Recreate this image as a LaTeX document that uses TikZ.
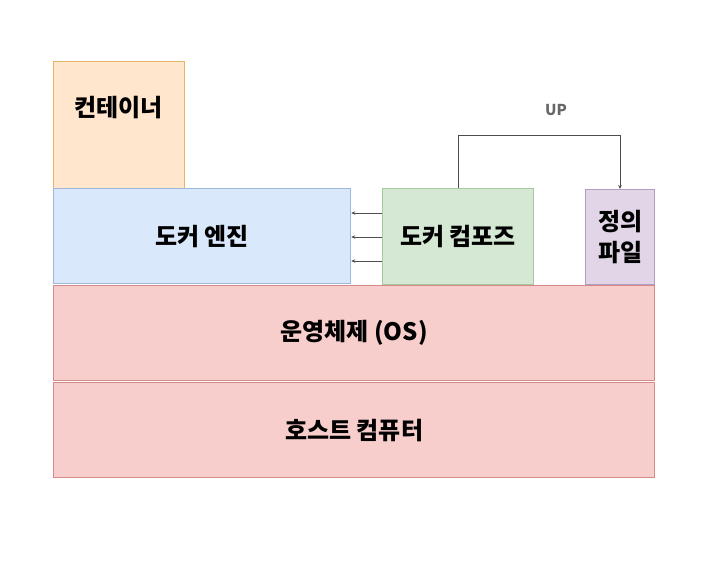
\documentclass[tikz,border=0pt]{standalone}
\usepackage{fontspec}
\setmainfont{Noto Sans CJK KR}
\usetikzlibrary{arrows.meta}
\definecolor{orfill}{HTML}{FFE6CC}\definecolor{ordraw}{HTML}{E3B66A}
\definecolor{blfill}{HTML}{DAE8FC}\definecolor{bldraw}{HTML}{9FB7DB}
\definecolor{grfill}{HTML}{D5E8D4}\definecolor{grdraw}{HTML}{A5C99B}
\definecolor{pufill}{HTML}{E1D5E7}\definecolor{pudraw}{HTML}{B49BC1}
\definecolor{rdfill}{HTML}{F8CECC}\definecolor{rddraw}{HTML}{D68B89}
\definecolor{uptext}{HTML}{666666}
\tikzset{
  box/.style={draw, line width=1.2pt, inner sep=0pt, font=\fontsize{24}{31}\selectfont\bfseries, align=center},
  conn/.style={draw=black!70, line width=0.8pt, -{Stealth[length=4pt,width=3.5pt]}},
}
\begin{document}
\begin{tikzpicture}[x=1pt,y=-1pt]
\useasboundingbox (0,0) rectangle (704,569);
\node[box, fill=orfill, draw=ordraw, minimum width=131pt, minimum height=127pt, anchor=north west] (cont) at (53,61) {};
\node[font=\fontsize{24}{28}\selectfont\bfseries] (contlabel) at (118.5,108) {컨테이너};
\node[box, fill=blfill, draw=bldraw, minimum width=297pt, minimum height=95pt, anchor=north west] (eng) at (53,188) {도커 엔진};
\node[box, fill=grfill, draw=grdraw, minimum width=151pt, minimum height=96pt, anchor=north west] (comp) at (382,188) {도커 컴포즈};
\node[box, fill=pufill, draw=pudraw, minimum width=69pt, minimum height=95pt, anchor=north west] (def) at (585,189) {정의\\파일};
\node[box, fill=rdfill, draw=rddraw, minimum width=601pt, minimum height=95pt, anchor=north west] (os) at (53,285) {운영체제 (OS)};
\node[box, fill=rdfill, draw=rddraw, minimum width=601pt, minimum height=95pt, anchor=north west] (host) at (53,382) {호스트 컴퓨터};
\foreach \yy in {213,237,261}{
  \draw[conn] (comp.west |- 0,\yy) -- (eng.east |- 0,\yy);
}
\coordinate (c1) at (458,135);
\coordinate (c2) at (620,135);
\draw[conn] (comp.north -| c1) -- (c1) -- (c2) -- (def.north -| c2);
\node[text=uptext, font=\fontsize{15}{18}\selectfont\bfseries] (up) at (556,110) {UP};
\end{tikzpicture}
\end{document}
